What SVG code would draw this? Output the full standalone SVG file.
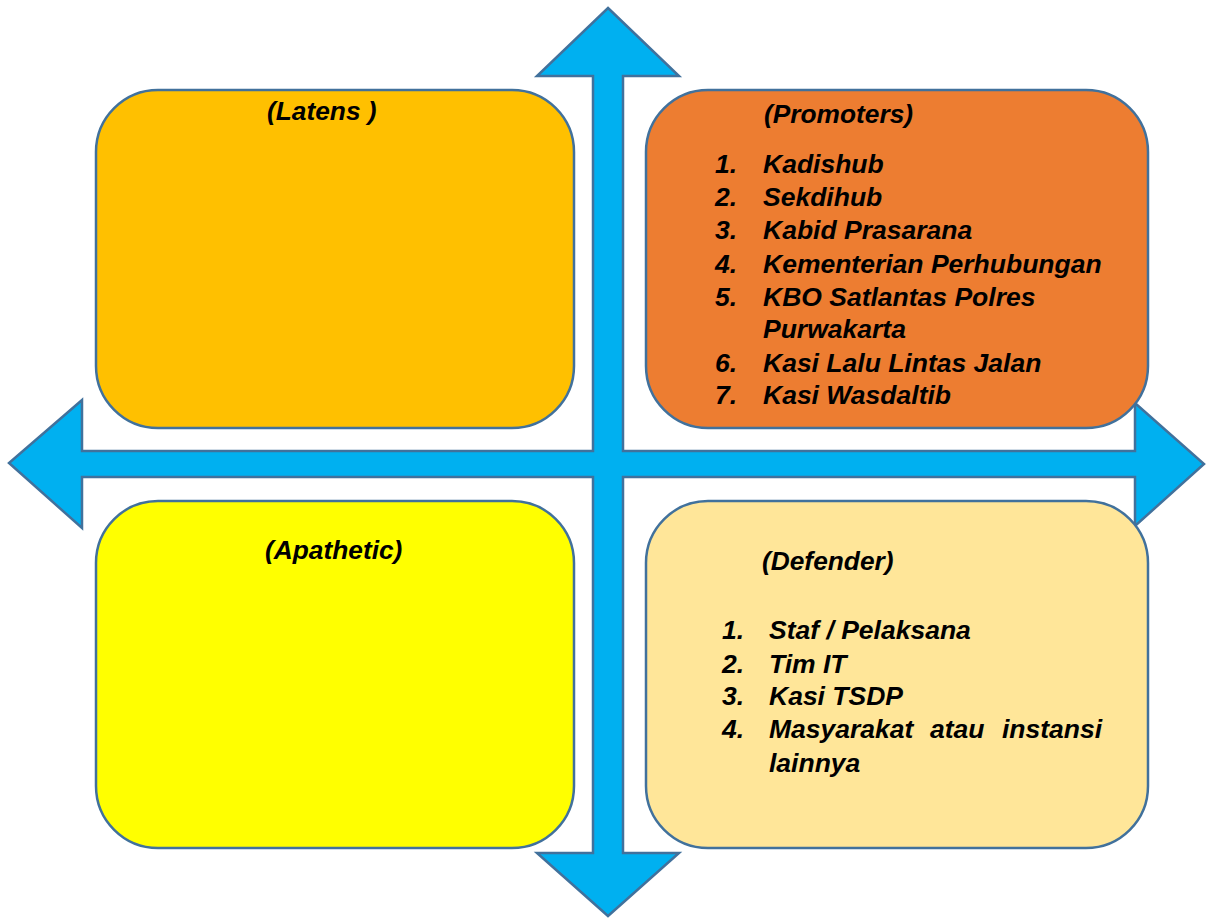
<svg xmlns="http://www.w3.org/2000/svg" width="1206" height="918" viewBox="0 0 1206 918">
<style>
.box{stroke:#41719C;stroke-width:2.5}
.t{font-family:"Liberation Sans",Arial,sans-serif;font-weight:bold;font-style:italic;fill:#000}
.h{font-size:26.3px}
.l{font-size:26.5px}
</style>
<rect width="1206" height="918" fill="#fff"/>
<g id="connectors">
<path d="M608,8 L679,76 L623,76 L623,451 L1135,451 L1135,403 L1204,464 L1135,526 L1135,477 L623,477 L623,853 L679,853 L608,916 L537,853 L593,853 L593,477 L82,477 L82,528 L9,463 L82,400 L82,451 L593,451 L593,76 L537,76 Z" fill="#00B0F0" stroke="#41719C" stroke-width="2.5" stroke-linejoin="miter"/>
</g>
<g id="latens">
<rect class="box" x="96" y="90" width="478" height="338" rx="62" fill="#FFC000"/>
<text class="t h" x="267" y="120">(Latens )</text>
</g>
<g id="promoters">
<rect class="box" x="646" y="90" width="502" height="338" rx="62" fill="#ED7D31"/>
<text class="t h" x="764" y="123">(Promoters)</text>
<g class="t l">
<text x="715" y="173">1.</text><text x="763" y="173">Kadishub</text>
<text x="715" y="206">2.</text><text x="763" y="206">Sekdihub</text>
<text x="715" y="239">3.</text><text x="763" y="239">Kabid Prasarana</text>
<text x="715" y="273">4.</text><text x="763" y="273">Kementerian Perhubungan</text>
<text x="715" y="306">5.</text><text x="763" y="306">KBO Satlantas Polres</text>
<text x="763" y="338">Purwakarta</text>
<text x="715" y="372">6.</text><text x="763" y="372">Kasi Lalu Lintas Jalan</text>
<text x="715" y="404">7.</text><text x="763" y="404">Kasi Wasdaltib</text>
</g>
</g>
<g id="apathetic">
<rect class="box" x="96" y="501" width="478" height="347" rx="62" fill="#FFFF00"/>
<text class="t h" x="265" y="559">(Apathetic)</text>
</g>
<g id="defender">
<rect class="box" x="646" y="501" width="502" height="347" rx="62" fill="#FFE699"/>
<text class="t h" x="762" y="570">(Defender)</text>
<g class="t l">
<text x="722" y="639">1.</text><text x="769" y="639">Staf / Pelaksana</text>
<text x="722" y="673">2.</text><text x="769" y="673">Tim IT</text>
<text x="722" y="705">3.</text><text x="769" y="705">Kasi TSDP</text>
<text x="722" y="738">4.</text><text x="769" y="738">Masyarakat</text><text x="930" y="738">atau</text><text x="1002" y="738">instansi</text>
<text x="769" y="772">lainnya</text>
</g>
</g>
</svg>
